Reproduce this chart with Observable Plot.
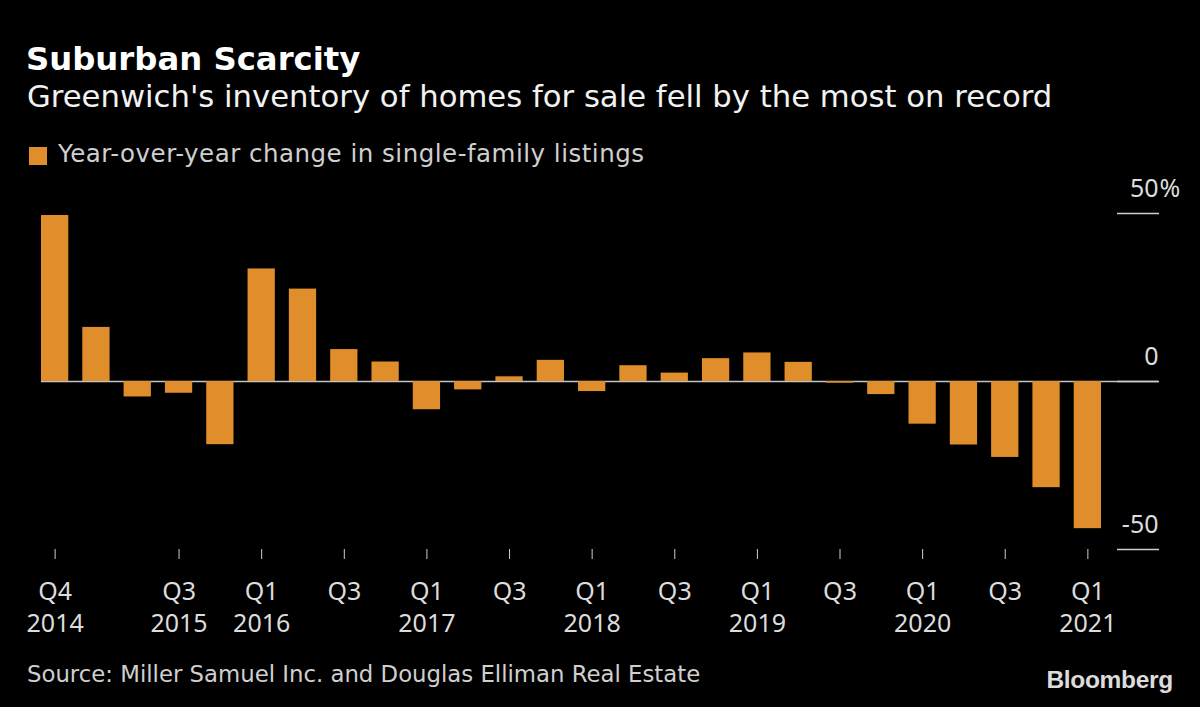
<!DOCTYPE html>
<html>
<head>
<meta charset="utf-8">
<script src="https://cdn.jsdelivr.net/npm/d3@7"></script>
<script src="https://cdn.jsdelivr.net/npm/@observablehq/plot@0.6"></script>
<style>
  html, body { margin: 0; padding: 0; background: #000; }
  #wrap { position: relative; width: 1200px; height: 707px; background: #000; overflow: hidden; font-family: "DejaVu Sans", sans-serif; }
  .t { position: absolute; white-space: nowrap; line-height: 1; }
  #title { left: 26px; top: 42.7px; font-size: 32.3px; font-weight: 700; color: #fff; }
  #subtitle { left: 27px; top: 82px; font-size: 30.7px; color: #f2f2f2; }
  #swatch { position: absolute; left: 29px; top: 147px; width: 18px; height: 18px; background: #E08E2B; }
  #legend { left: 58px; top: 142.3px; font-size: 24.5px; letter-spacing: 0.5px; color: #cfcfcf; }
  #chart { position: absolute; left: 0; top: 140px; }
  #source { left: 27px; top: 662.7px; font-size: 22.8px; color: #cfcfcf; }
  #logo { right: 27px; top: 668.3px; font-family: "Liberation Sans", Arial, sans-serif; font-weight: 700; font-size: 24.5px; color: #dcdcdc; letter-spacing: -0.3px; }
</style>
</head>
<body>
<div id="wrap">
  <div class="t" id="title">Suburban Scarcity</div>
  <div class="t" id="subtitle">Greenwich's inventory of homes for sale fell by the most on record</div>
  <div id="swatch"></div>
  <div class="t" id="legend">Year-over-year change in single-family listings</div>
  <div id="chart"></div>
  <div class="t" id="source">Source: Miller Samuel Inc. and Douglas Elliman Real Estate</div>
  <div class="t" id="logo">Bloomberg</div>
</div>
<script>
const quarters = [
  "Q4 2014",
  "Q1 2015", "Q2 2015", "Q3 2015", "Q4 2015",
  "Q1 2016", "Q2 2016", "Q3 2016", "Q4 2016",
  "Q1 2017", "Q2 2017", "Q3 2017", "Q4 2017",
  "Q1 2018", "Q2 2018", "Q3 2018", "Q4 2018",
  "Q1 2019", "Q2 2019", "Q3 2019", "Q4 2019",
  "Q1 2020", "Q2 2020", "Q3 2020", "Q4 2020",
  "Q1 2021"
];
const values = [
  49.4,
  16.1, -4.6, -3.5, -18.8,
  33.5, 27.5, 9.5, 5.8,
  -8.4, -2.5, 1.4, 6.3,
  -3.0, 4.7, 2.5, 6.8,
  8.5, 5.7, -0.5, -3.9,
  -12.7, -18.9, -22.6, -31.6,
  -43.8
];
const tickQuarters = ["Q4 2014", "Q3 2015", "Q1 2016", "Q3 2016", "Q1 2017", "Q3 2017", "Q1 2018", "Q3 2018", "Q1 2019", "Q3 2019", "Q1 2020", "Q3 2020", "Q1 2021"];
const tickLabels = ["Q4\n2014", "Q3\n2015", "Q1\n2016", "Q3", "Q1\n2017", "Q3", "Q1\n2018", "Q3", "Q1\n2019", "Q3", "Q1\n2020", "Q3", "Q1\n2021"];
const yTicks = [-50, 0, 50];
const yTickLabels = ["-50", "0", "50"];

const data = quarters.map((q, i) => ({q, v: values[i]}));
const xLabel = new Map(tickQuarters.map((q, i) => [q, tickLabels[i]]));
const yLabel = new Map(yTicks.map((t, i) => [t, yTickLabels[i]]));

const chart = Plot.plot({
  width: 1200,
  height: 500,
  marginTop: 73,
  marginBottom: 91,
  marginLeft: 41,
  marginRight: 42,
  style: {background: "transparent", fontFamily: "Noto Sans, sans-serif"},
  x: {type: "band", domain: quarters, range: [41, 1101], paddingInner: 0.34, paddingOuter: 0, align: 0, round: false},
  y: {domain: [-50, 50]},
  marks: [
    Plot.ruleY([0], {stroke: "#c4c4c4", strokeWidth: 1.6}),
    Plot.barY(data, {x: "q", y: "v", fill: "#E08E2B"}),
    Plot.axisX(tickQuarters, {
      anchor: "bottom", tickSize: 10, tickPadding: 18, fontSize: 25, lineHeight: 1.28,
      tickFormat: d => xLabel.get(d), stroke: "#cfcfcf", fill: "#dcdcdc", label: null
    }),
    Plot.axisY(yTicks, {anchor: "right", tickSize: -42, stroke: "#cfcfcf", strokeWidth: 1.6, fill: "none", label: null}),
    Plot.axisY(yTicks, {
      anchor: "right", tickSize: 0, tickPadding: 0, textAnchor: "end", dy: -25, fontSize: 25,
      tickFormat: d => yLabel.get(d), fill: "#dcdcdc", label: null
    }),
    Plot.text([50], {y: d => d, text: () => "%", frameAnchor: "right", textAnchor: "start", dx: 1, dy: -25, fontSize: 25, fill: "#dcdcdc"})
  ]
});
document.getElementById("chart").appendChild(chart);
</script>
</body>
</html>
